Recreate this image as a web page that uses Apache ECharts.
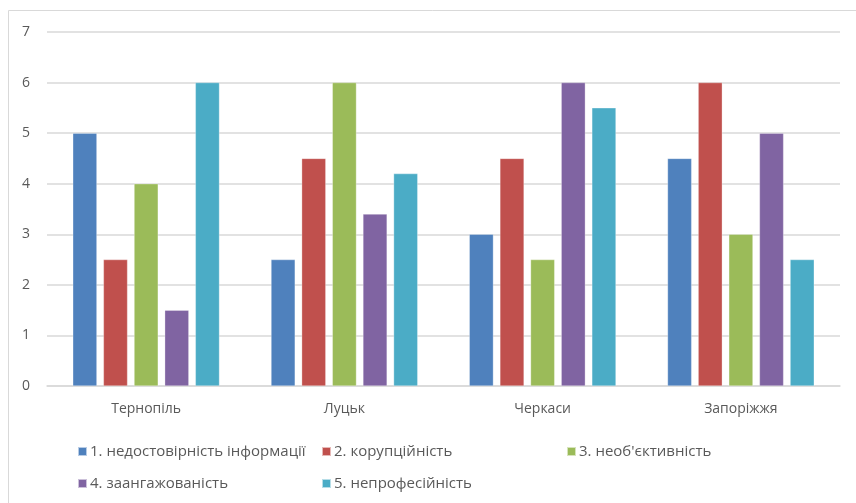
<!DOCTYPE html>
<html>
<head>
<meta charset="utf-8">
<script src="https://cdn.jsdelivr.net/npm/echarts@6/dist/echarts.min.js"></script>
<style>html,body{margin:0;padding:0;background:#fff}#c{width:856px;height:503px}</style>
</head>
<body>
<div id="c"></div>
<script>
const categories = ['Тернопіль', 'Луцьк', 'Черкаси', 'Запоріжжя'];
const seriesNames = ['1. недостовірність інформації', '2. корупційність', '3. необ\'єктивність', '4. заангажованість', '5. непрофесійність'];
const s1 = [5, 2.5, 3, 4.5];
const s2 = [2.5, 4.5, 4.5, 6];
const s3 = [4, 6, 2.5, 3];
const s4 = [1.5, 3.4, 6, 5];
const s5 = [6, 4.2, 5.5, 2.5];
const yTicks = [0, 1, 2, 3, 4, 5, 6, 7];

const values = [s1, s2, s3, s4, s5];
const colors = ['#4F81BD', '#C0504D', '#9BBB59', '#8064A2', '#4BACC6'];
const FONT = 'Open Sans';
const legendPos = [[72, 439], [316, 439], [561, 439], [72, 471], [316, 471]];

const chart = echarts.init(document.getElementById('c'), null, {renderer: 'canvas'});
chart.setOption({
  animation: false,
  color: colors,
  textStyle: {fontFamily: FONT},
  graphic: [
    {type: 'polyline', shape: {points: [[8.5, 503], [8.5, 10.5], [856, 10.5]]}, style: {stroke: '#D9D9D9', lineWidth: 1, fill: null}, silent: true}
  ],
  grid: {left: 47, right: 16, top: 32, bottom: 117},
  legend: seriesNames.map((n, i) => ({
    data: [n], left: legendPos[i][0], top: legendPos[i][1],
    icon: 'rect', itemWidth: 9, itemHeight: 9, itemGap: 4,
    textStyle: {color: '#595959', fontSize: 15, fontFamily: FONT, padding: [0, 0, 0, -2]}
  })),
  xAxis: {
    type: 'category', data: categories,
    axisLine: {lineStyle: {color: '#D9D9D9', width: 1.5}},
    axisTick: {show: false},
    axisLabel: {color: '#595959', fontSize: 14, margin: 16, fontFamily: FONT}
  },
  yAxis: {
    type: 'value', min: yTicks[0], max: yTicks[yTicks.length - 1], interval: 1,
    axisLine: {show: false}, axisTick: {show: false},
    splitLine: {lineStyle: {color: '#D9D9D9', width: 1.5}},
    axisLabel: {color: '#595959', fontSize: 14, margin: 17, fontFamily: FONT}
  },
  series: values.map((v, i) => ({
    name: seriesNames[i], type: 'bar', data: v,
    barGap: '27%', barCategoryGap: '26%',
    itemStyle: {color: colors[i], borderColor: 'rgba(255,255,255,0.6)', borderWidth: 0.5}
  }))
});
</script>
</body>
</html>
